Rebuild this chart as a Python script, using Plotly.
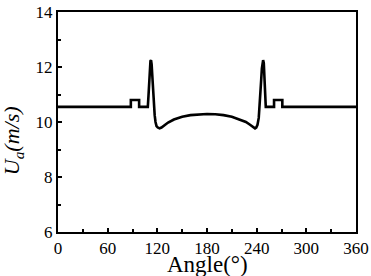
import plotly.graph_objects as go

angle = [0, 88, 88, 98, 98, 108.5, 109.3, 110.2, 111, 111.7, 112.4, 113.1, 113.9, 114.8, 115.8, 116.8,
         117.8, 119, 120.5, 122.7, 125, 128, 133, 140, 150, 160, 170, 180, 190, 200, 210, 220, 227,
         232, 235, 236.5, 238, 239.5, 241, 242.5, 243.6, 244.6, 245.5, 246.3, 247.1, 247.8, 248.6,
         249.4, 250.2, 251, 261, 261, 271, 271, 360]
ua = [10.55, 10.55, 10.8, 10.8, 10.55, 10.55, 10.95, 11.55, 12.0, 12.22, 12.25, 12.1, 11.7, 11.15,
      10.65, 10.25, 10.0, 9.85, 9.8, 9.77, 9.8, 9.88, 9.98, 10.09, 10.19, 10.25, 10.28, 10.29,
      10.28, 10.25, 10.19, 10.09, 10.0, 9.9, 9.82, 9.79, 9.77, 9.8, 9.9, 10.15, 10.55, 11.05,
      11.55, 11.95, 12.2, 12.25, 12.15, 11.7, 11.1, 10.55, 10.55, 10.8, 10.8, 10.55, 10.55]

x_ticks = [0, 60, 120, 180, 240, 300, 360]
y_ticks = [6, 8, 10, 12, 14]
x_title = "Angle(°)"
y_title = "<i>U</i><sub><i>a</i></sub><i>(m/s)</i>"

fig = go.Figure()
fig.add_trace(go.Scatter(x=angle, y=ua, mode="lines",
                         line=dict(color="black", width=2.6, shape="linear"),
                         showlegend=False))

font_family = "Liberation Serif, Times New Roman, serif"
axis_common = dict(showline=True, linecolor="black", linewidth=2, mirror=True,
                   ticks="inside", ticklen=4, tickwidth=1.5, tickcolor="black",
                   showgrid=False, zeroline=False, automargin=False,
                   tickfont=dict(family=font_family, size=17, color="black"))

fig.update_xaxes(range=[0, 360], tickvals=x_ticks, ticktext=[str(v) for v in x_ticks],
                 minor=dict(dtick=30, ticks="inside", ticklen=3, tickwidth=1.5, tickcolor="black", tick0=0),
                 **axis_common)
fig.update_yaxes(range=[6, 14], tickvals=y_ticks, ticktext=[str(v) for v in y_ticks],
                 minor=dict(dtick=1, ticks="inside", ticklen=3, tickwidth=1.5, tickcolor="black", tick0=6),
                 **axis_common)

fig.add_annotation(text=x_title, xref="paper", yref="paper", x=0.5, y=-0.146,
                   xanchor="center", yanchor="middle", showarrow=False,
                   font=dict(family=font_family, size=23, color="black"))
fig.add_annotation(text=y_title, xref="paper", yref="paper", x=-0.15, y=0.414,
                   xanchor="center", yanchor="middle", showarrow=False, textangle=-90,
                   font=dict(family=font_family, size=22, color="black"))

fig.update_layout(width=371, height=276, margin=dict(l=58, r=15, t=12, b=44),
                  plot_bgcolor="white", paper_bgcolor="white")

fig.write_html("out.html", config={"displayModeBar": False},
               post_script="document.body.style.margin='0';document.body.style.overflow='hidden';")
